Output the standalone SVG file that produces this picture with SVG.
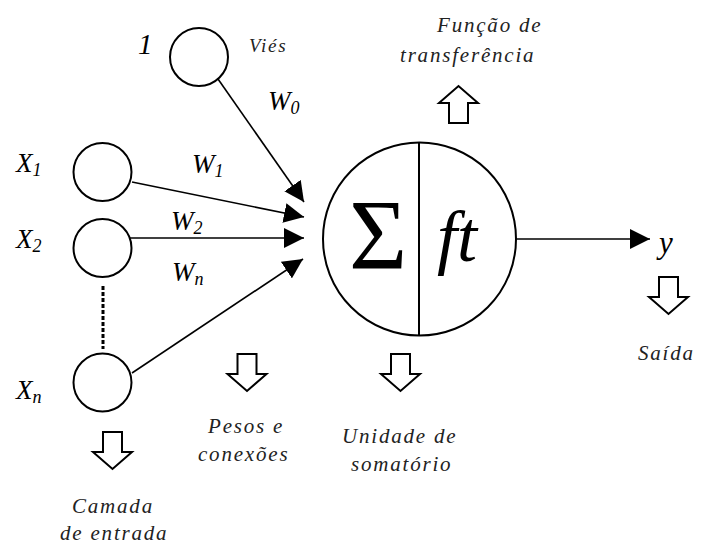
<svg xmlns="http://www.w3.org/2000/svg" width="701" height="547" viewBox="0 0 701 547">
<style>
.node{fill:#fff;stroke:#000;stroke-width:2}
.conn{stroke:#000;stroke-width:1.6;fill:none}
.txt{font-family:"Liberation Serif","Times New Roman","DejaVu Serif",serif}
.lbl{font-style:italic;font-size:27px;fill:#000}
.sub{font-size:18px}
.desc{font-style:italic;font-size:21px;letter-spacing:1.8px;fill:#222}
.blk{fill:#fff;stroke:#000;stroke-width:2}
</style>
<defs>
<marker id="ah" markerUnits="userSpaceOnUse" markerWidth="20" markerHeight="20" refX="20" refY="10" orient="auto">
<path d="M0,0 L20,10 L0,20 Z" fill="#000"/>
</marker>
<path id="down" d="M-9.5,0 H9.5 V20 H19.5 L0,37 L-19.5,20 H-9.5 Z"/>
</defs>
<rect width="701" height="547" fill="#fff"/>
<g class="txt" font-family="Liberation Serif, Times New Roman, serif">
<g id="connectors">
<line class="conn" x1="218" y1="79" x2="304" y2="202" marker-end="url(#ah)"/>
<line class="conn" x1="132" y1="182" x2="304" y2="217" marker-end="url(#ah)"/>
<line class="conn" x1="130" y1="238" x2="304" y2="238" marker-end="url(#ah)"/>
<line class="conn" x1="132" y1="373" x2="303" y2="259" marker-end="url(#ah)"/>
<line class="conn" x1="516" y1="239" x2="650" y2="239" marker-end="url(#ah)"/>
<line x1="103" y1="286" x2="103" y2="349" stroke="#000" stroke-width="3" stroke-dasharray="4 2"/>
</g>
<g id="bias">
<circle class="node" cx="199" cy="57" r="29"/>
<text class="lbl" x="138" y="54" style="font-size:29px">1</text>
<text class="desc" x="249" y="52" style="font-size:19px">Viés</text>
<text class="lbl" x="268" y="110">W<tspan class="sub" dy="4">0</tspan></text>
</g>
<g id="x1">
<circle class="node" cx="102.5" cy="172" r="29"/>
<text class="lbl" x="16" y="172">X<tspan class="sub" dy="4">1</tspan></text>
<text class="lbl" x="192" y="173">W<tspan class="sub" dy="4">1</tspan></text>
</g>
<g id="x2">
<circle class="node" cx="102.5" cy="248" r="29"/>
<text class="lbl" x="16" y="248">X<tspan class="sub" dy="4">2</tspan></text>
<text class="lbl" x="171" y="230">W<tspan class="sub" dy="4">2</tspan></text>
<text class="lbl" x="172" y="281">W<tspan class="sub" dy="4">n</tspan></text>
</g>
<g id="xn">
<circle class="node" cx="102.5" cy="382.5" r="29"/>
<text class="lbl" x="16" y="399">X<tspan class="sub" dy="4">n</tspan></text>
</g>
<g id="neuron">
<circle class="node" cx="419.5" cy="239" r="96.5"/>
<line x1="419" y1="143" x2="419" y2="335" stroke="#000" stroke-width="2"/>
<text x="378" y="268" text-anchor="middle" style="font-size:100px">Σ</text>
<text x="457" y="261" text-anchor="middle" style="font-size:72px;font-style:italic">ft</text>
<text class="lbl" x="659" y="253" style="font-size:31px">y</text>
</g>
<g id="transfer">
<use href="#down" class="blk" transform="translate(458.5,123) scale(1,-1)"/>
<text class="desc" x="437" y="32">Função de</text>
<text class="desc" x="400" y="62">transferência</text>
</g>
<g id="output">
<use href="#down" class="blk" transform="translate(668.5,277)"/>
<text class="desc" x="638" y="360">Saída</text>
</g>
<g id="weights">
<use href="#down" class="blk" transform="translate(247,354)"/>
<text class="desc" x="208" y="433">Pesos e</text>
<text class="desc" x="198" y="461">conexões</text>
</g>
<g id="sum">
<use href="#down" class="blk" transform="translate(400.5,354)"/>
<text class="desc" x="342" y="443">Unidade de</text>
<text class="desc" x="351" y="471">somatório</text>
</g>
<g id="input">
<use href="#down" class="blk" transform="translate(112.5,432)"/>
<text class="desc" x="72" y="513">Camada</text>
<text class="desc" x="60" y="540">de entrada</text>
</g>
</g>
</svg>
